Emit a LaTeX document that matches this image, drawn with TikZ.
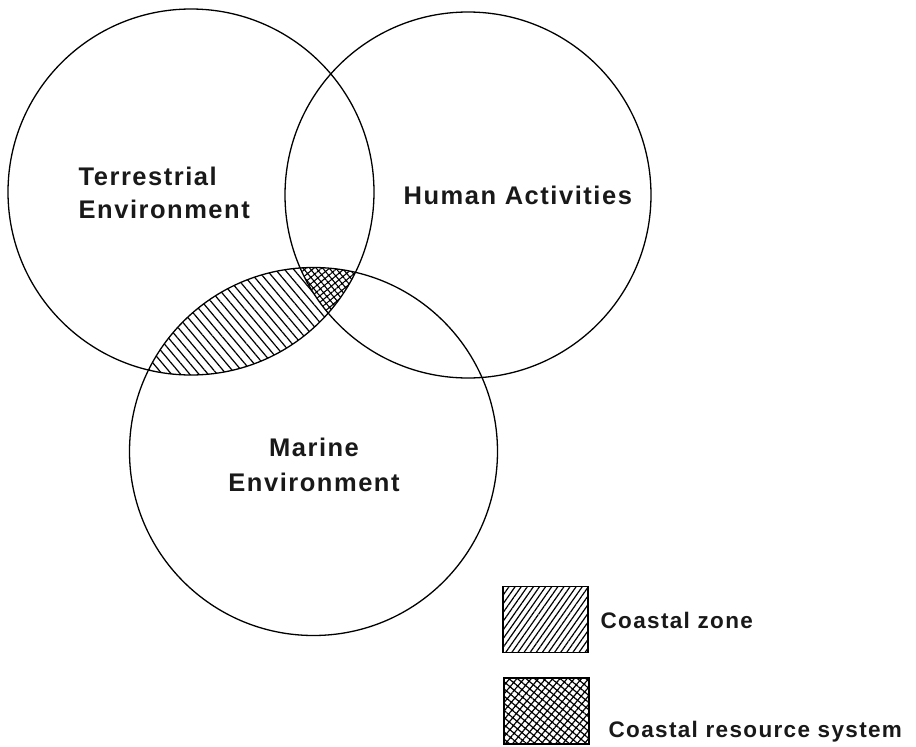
\documentclass[tikz,border=0pt]{standalone}
\usepackage{fontspec}
\usetikzlibrary{patterns.meta}
\newfontfamily\labfont{Liberation Sans Bold}[LetterSpace=6]
\begin{document}
\begin{tikzpicture}[x=1pt,y=-1pt,line width=1.3pt,
  biglab/.style={font=\labfont\fontsize{25.5}{30}\selectfont,inner sep=0pt,text=black!90},
  leglab/.style={font=\labfont\fontsize{22.5}{27}\selectfont,inner sep=0pt,text=black!90,anchor=base west},
  legbox/.style={draw,rectangle,minimum width=85pt,minimum height=66pt,inner sep=0pt,line width=1.5pt},
  zonepat/.style={pattern={Lines[angle=-50,distance=7pt,line width=1.2pt]}},
  crosspat/.style={pattern={Hatch[angle=40,distance=5pt,line width=1.1pt]}},
  legzone/.style={pattern={Lines[angle=55,distance=5pt,line width=1.2pt]}},
  legcross/.style={pattern={Hatch[angle=50,distance=5.5pt,line width=1.2pt]}}]
\useasboundingbox (0,0) rectangle (916,747);
\def\Tc{(191,192) circle[radius=183]}
\def\Hc{(468,195) circle[radius=183]}
\def\Mc{(313.5,451.5) circle[radius=184]}
% coastal zone: T and M, outside H
\begin{scope}
  \clip \Tc;
  \clip \Mc;
  \path[zonepat,even odd rule] (0,0) rectangle (916,747) \Hc;
\end{scope}
% coastal resource system: T, H and M
\begin{scope}
  \clip \Tc;
  \clip \Hc;
  \path[crosspat] \Mc;
\end{scope}
\draw \Tc;
\draw \Hc;
\draw \Mc;
\node[biglab,anchor=base west] (t1) at (78,185) {Terrestrial};
\node[biglab,anchor=base west] (t2) at (78,218) {Environment};
\node[biglab,anchor=base west] (h1) at (403,204) {Human Activities};
\node[biglab,anchor=base] (m1) at (314,456) {Marine};
\node[biglab,anchor=base] (m2) at (314,491) {Environment};
\node[legbox,legzone] (lz) at (545.5,619.5) {};
\node[legbox,legcross] (lc) at (546.5,711) {};
\node[leglab] (lzt) at (600,628) {Coastal zone};
\node[leglab] (lct) at (608,737) {Coastal resource system};
\end{tikzpicture}
\end{document}
